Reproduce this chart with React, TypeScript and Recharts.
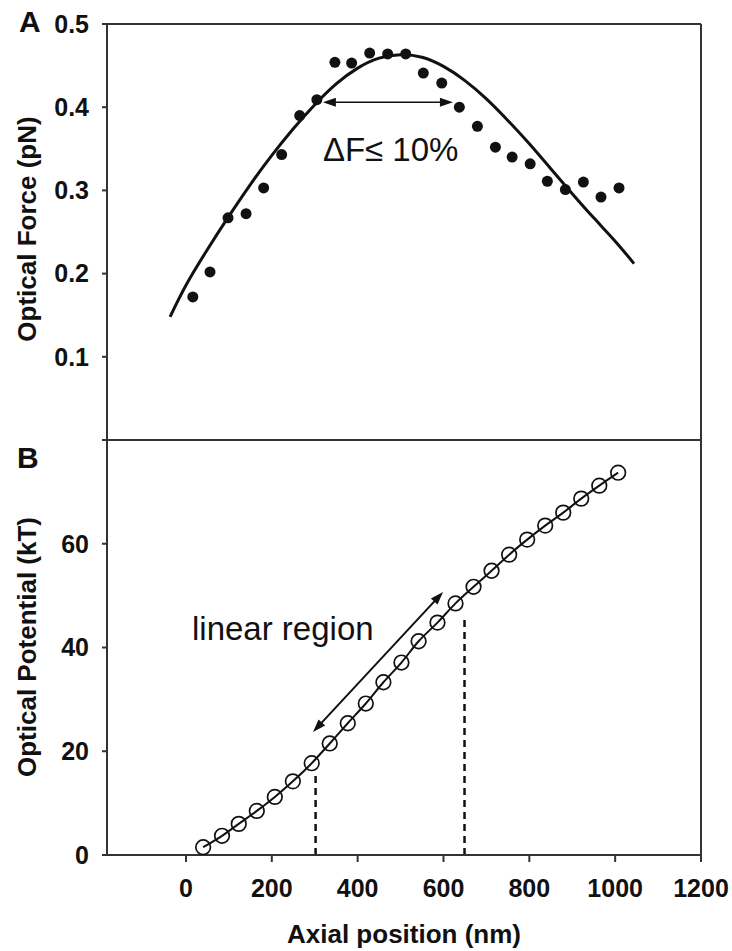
import {
  ComposedChart,
  Line,
  Scatter,
  XAxis,
  YAxis,
  ReferenceLine,
  ReferenceDot,
  Label,
} from "recharts";

const FONT = "'Liberation Sans', Arial, sans-serif";
const INK = "#111";
const AXIS = "#333";

// panel A: measured optical force and fitted curve
const forcePositions = [16, 56, 98, 140, 181, 223, 265, 305, 347, 386, 428, 470, 512, 553, 596, 637, 679, 721, 760, 802, 842, 884, 926, 967, 1009];
const forceValues = [0.172, 0.202, 0.267, 0.272, 0.303, 0.343, 0.39, 0.409, 0.454, 0.453, 0.465, 0.464, 0.464, 0.441, 0.429, 0.4, 0.377, 0.352, 0.34, 0.332, 0.311, 0.301, 0.31, 0.292, 0.303];
const forceFitPositions = [-37, 0, 50, 100, 150, 200, 250, 300, 350, 400, 450, 500, 550, 600, 650, 700, 750, 800, 850, 900, 950, 1000, 1044];
const forceFitValues = [0.148, 0.186, 0.229, 0.269, 0.307, 0.342, 0.374, 0.403, 0.428, 0.447, 0.459, 0.463, 0.46, 0.449, 0.432, 0.41, 0.384, 0.356, 0.326, 0.296, 0.267, 0.239, 0.212];

// panel B: optical potential
const potentialPositions = [40, 84, 123, 165, 207, 249, 293, 335, 377, 419, 460, 502, 542, 586, 628, 670, 712, 753, 795, 837, 879, 921, 963, 1007];
const potentialValues = [1.5, 3.7, 6.0, 8.5, 11.2, 14.2, 17.7, 21.5, 25.4, 29.2, 33.3, 37.1, 41.2, 44.8, 48.5, 51.7, 54.8, 57.9, 60.8, 63.5, 66.0, 68.7, 71.2, 73.7];

const xTicks = [0, 200, 400, 600, 800, 1000, 1200];
const forceTicks = [0, 0.1, 0.2, 0.3, 0.4, 0.5];
const potentialTicks = [0, 20, 40, 60];
const X_DOMAIN: [number, number] = [-184, 1200];

// annotations (data coordinates)
const forceBand = { from: 319, to: 622, level: 0.406 };
const forceNote = { x: 319, y: 0.335, text: "ΔF≤ 10%" };
const linearArrow = { x1: 296, y1: 23.7, x2: 599, y2: 50.7 };
const linearNote = { x: 14, y: 41.4, text: "linear region" };
const linearBounds = [
  { x: 302, top: 15.5 },
  { x: 649, top: 45.5 },
];

const forceFit = forceFitPositions.map((x, i) => ({ x, y: forceFitValues[i] }));
const forcePoints = forcePositions.map((x, i) => ({ x, y: forceValues[i] }));
const potentialPoints = potentialPositions.map((x, i) => ({ x, y: potentialValues[i] }));

const tickStyle = { fontSize: 25, fontWeight: "bold", fill: INK, fontFamily: FONT };

const verticalTitle = (text: string, cx: number, cy: number) => () => (
  <text
    x={cx}
    y={cy}
    transform={`rotate(-90 ${cx} ${cy})`}
    textAnchor="middle"
    fontSize={26}
    fontWeight="bold"
    fontFamily={FONT}
    fill={INK}
  >
    {text}
  </text>
);

const panelLetter = (text: string, x: number, y: number) => () => (
  <text x={x} y={y} fontSize={30} fontWeight="bold" fontFamily={FONT} fill={INK}>
    {text}
  </text>
);

const noteShape = (text: string) => (p: any) => (
  <text x={p.cx} y={p.cy} fontSize={33} fontFamily={FONT} fill={INK}>
    {text}
  </text>
);

const doubleArrow = (width: number) => (p: any) => {
  const { x1, y1, x2, y2 } = p;
  const len = Math.hypot(x2 - x1, y2 - y1) || 1;
  const ux = (x2 - x1) / len;
  const uy = (y2 - y1) / len;
  const hl = 13;
  const hw = 4.5;
  const head = (tx: number, ty: number, dx: number, dy: number) => {
    const bx = tx - dx * hl;
    const by = ty - dy * hl;
    return `${tx},${ty} ${bx - dy * hw},${by + dx * hw} ${bx + dy * hw},${by - dx * hw}`;
  };
  return (
    <g>
      <line
        x1={x1 + ux * hl * 0.8}
        y1={y1 + uy * hl * 0.8}
        x2={x2 - ux * hl * 0.8}
        y2={y2 - uy * hl * 0.8}
        stroke={INK}
        strokeWidth={width}
      />
      <polygon points={head(x2, y2, ux, uy)} fill={INK} />
      <polygon points={head(x1, y1, -ux, -uy)} fill={INK} />
    </g>
  );
};

const filledDot = (p: any) => <circle cx={p.cx} cy={p.cy} r={5.5} fill={INK} />;
const openDot = (p: any) => (
  <circle cx={p.cx} cy={p.cy} r={7.3} fill="none" stroke={INK} strokeWidth={1.7} />
);

export default function App() {
  return (
    <div
      style={{
        position: "absolute",
        left: 0,
        top: 0,
        width: 732,
        height: 951,
        background: "#fff",
        overflow: "hidden",
      }}
    >
      <div style={{ position: "absolute", left: 0, top: 0 }}>
        <ComposedChart width={732} height={445} margin={{ top: 24, right: 31, bottom: 5, left: 0 }}>
          <XAxis type="number" dataKey="x" domain={X_DOMAIN} allowDataOverflow hide />
          <YAxis
            type="number"
            domain={[0, 0.5]}
            ticks={forceTicks}
            width={107}
            tickSize={5}
            tickMargin={13}
            tick={tickStyle}
            tickFormatter={(v: number) => (v === 0 ? "" : v.toFixed(1))}
            axisLine={{ stroke: AXIS, strokeWidth: 2 }}
            tickLine={{ stroke: AXIS, strokeWidth: 2 }}
          >
            <Label content={verticalTitle("Optical Force (pN)", 36, 229)} />
            <Label content={panelLetter("A", 19, 32)} />
          </YAxis>
          <ReferenceLine y={0.5} stroke={AXIS} strokeWidth={2} />
          <ReferenceLine y={0} stroke={AXIS} strokeWidth={2} />
          <ReferenceLine x={1200} stroke={AXIS} strokeWidth={2} />
          <ReferenceLine
            segment={[
              { x: forceBand.from, y: forceBand.level },
              { x: forceBand.to, y: forceBand.level },
            ]}
            shape={doubleArrow(1.6)}
          />
          <ReferenceDot x={forceNote.x} y={forceNote.y} r={0} shape={noteShape(forceNote.text)} />
          <Line
            data={forceFit}
            dataKey="y"
            type="natural"
            stroke={INK}
            strokeWidth={3}
            dot={false}
            isAnimationActive={false}
          />
          <Scatter data={forcePoints} dataKey="y" shape={filledDot} isAnimationActive={false} />
        </ComposedChart>
      </div>

      <div style={{ position: "absolute", left: 0, top: 440 }}>
        <ComposedChart width={732} height={511} margin={{ top: 0, right: 31, bottom: 0, left: 0 }}>
          <XAxis
            type="number"
            dataKey="x"
            domain={X_DOMAIN}
            allowDataOverflow
            ticks={xTicks}
            height={96}
            tickSize={7}
            tickMargin={17}
            tick={tickStyle}
            axisLine={{ stroke: AXIS, strokeWidth: 2 }}
            tickLine={{ stroke: AXIS, strokeWidth: 2 }}
          >
            <Label
              value="Axial position (nm)"
              position="insideBottom"
              offset={8}
              style={{ fontSize: 26, fontWeight: "bold", fill: INK, fontFamily: FONT }}
            />
          </XAxis>
          <YAxis
            type="number"
            domain={[0, 80]}
            ticks={potentialTicks}
            width={107}
            tickSize={5}
            tickMargin={13}
            tick={tickStyle}
            axisLine={{ stroke: AXIS, strokeWidth: 2 }}
            tickLine={{ stroke: AXIS, strokeWidth: 2 }}
          >
            <Label content={verticalTitle("Optical Potential (kT)", 36, 207)} />
            <Label content={panelLetter("B", 17, 28)} />
          </YAxis>
          <ReferenceLine x={1200} stroke={AXIS} strokeWidth={2} />
          {linearBounds.map((b) => (
            <ReferenceLine
              key={b.x}
              segment={[
                { x: b.x, y: 0 },
                { x: b.x, y: b.top },
              ]}
              stroke={INK}
              strokeWidth={2.5}
              strokeDasharray="7 5"
            />
          ))}
          <ReferenceLine
            segment={[
              { x: linearArrow.x1, y: linearArrow.y1 },
              { x: linearArrow.x2, y: linearArrow.y2 },
            ]}
            shape={doubleArrow(2)}
          />
          <ReferenceDot x={linearNote.x} y={linearNote.y} r={0} shape={noteShape(linearNote.text)} />
          <Line
            data={potentialPoints}
            dataKey="y"
            type="monotone"
            stroke={INK}
            strokeWidth={2}
            dot={false}
            isAnimationActive={false}
          />
          <Scatter data={potentialPoints} dataKey="y" shape={openDot} isAnimationActive={false} />
        </ComposedChart>
      </div>
    </div>
  );
}
